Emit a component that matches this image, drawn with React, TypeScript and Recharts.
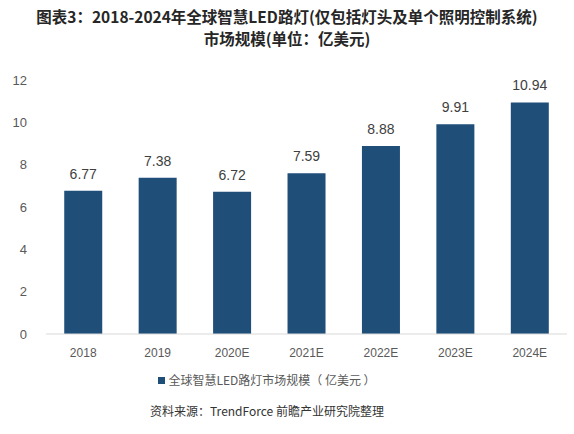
import { BarChart, Bar, XAxis, YAxis, LabelList } from 'recharts'

const years = ['2018', '2019', '2020E', '2021E', '2022E', '2023E', '2024E']
const marketSize = [6.77, 7.38, 6.72, 7.59, 8.88, 9.91, 10.94]
const yTicks = [0, 2, 4, 6, 8, 10, 12]

const BAR = '#1f4e79'
const LATIN = '"Liberation Sans", Arial, "Noto Sans CJK SC", sans-serif'
const CJK = '"Noto Sans CJK SC", "Liberation Sans", sans-serif'

const rows = years.map((y, i) => ({ year: y, value: marketSize[i] }))

export default function App() {
  return (
    <div style={{ position: 'absolute', left: 0, top: 0, width: 574, height: 434, background: '#fff', overflow: 'hidden' }}>
      {/* title */}
      <div
        style={{
          position: 'absolute', left: 0, top: 5, width: 574, textAlign: 'center',
          fontFamily: CJK, fontWeight: 700, fontSize: 15.5, lineHeight: '22px',
          color: '#262626', letterSpacing: 0,
        }}
      >
        <div>图表3：2018-2024年全球智慧LED路灯(仅包括灯头及单个照明控制系统)</div>
        <div>市场规模(单位：亿美元)</div>
      </div>

      <div style={{ position: 'absolute', left: 0, top: 0 }}>
        <BarChart width={574} height={434} data={rows} margin={{ top: 80, right: 7, left: 6, bottom: 70 }} barCategoryGap="24.5%">
          <XAxis
            dataKey="year"
            height={30}
            axisLine={{ stroke: '#d9d9d9' }}
            tickLine={false}
            tickMargin={8}
            tick={{ fill: '#595959', fontSize: 12, fontFamily: LATIN }}
          />
          <YAxis
            width={40}
            domain={[0, 12]}
            ticks={yTicks}
            axisLine={false}
            tickLine={false}
            tickMargin={13}
            tick={{ fill: '#595959', fontSize: 13, fontFamily: LATIN }}
          />
          <Bar dataKey="value" fill={BAR} isAnimationActive={false}>
            <LabelList dataKey="value" position="top" offset={12} fill="#404040" fontSize={14} fontFamily={LATIN} />
          </Bar>
        </BarChart>
      </div>

      {/* legend */}
      <div
        style={{
          position: 'absolute', left: 0, top: 371, width: 534, textAlign: 'center',
          fontFamily: CJK, fontSize: 12, lineHeight: '18px', color: '#595959',
        }}
      >
        <span style={{ display: 'inline-block', width: 7, height: 7, background: BAR, marginRight: 3, verticalAlign: 1 }} />
        全球智慧LED路灯市场规模（ 亿美元 ）
      </div>

      {/* source */}
      <div
        style={{
          position: 'absolute', left: 0, top: 402, width: 534, textAlign: 'center',
          fontFamily: CJK, fontSize: 12, lineHeight: '18px', color: '#333',
        }}
      >
        资料来源：TrendForce 前瞻产业研究院整理
      </div>
    </div>
  )
}
